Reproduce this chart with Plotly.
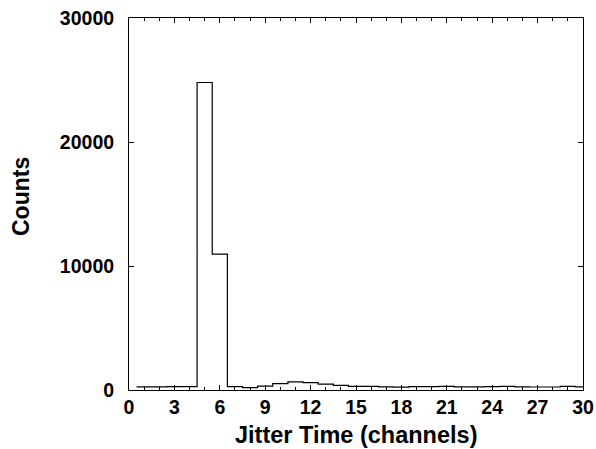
import plotly.graph_objects as go

channels = list(range(1, 31))
counts = [250, 250, 280, 280, 24800, 10950, 270, 190, 320, 520,
          650, 600, 470, 380, 300, 290, 260, 230, 280, 280,
          300, 260, 250, 280, 290, 260, 240, 240, 290, 250]

x_tick_vals = list(range(0, 31, 3))
y_tick_vals = [0, 10000, 20000, 30000]

# step outline (histogram steps centred on each channel)
xs = [c - 0.5 for c in channels] + [channels[-1] + 0.5]
ys = counts + [counts[-1]]

fig = go.Figure()
fig.add_trace(go.Scatter(x=xs, y=ys, mode="lines", line=dict(shape="hv", color="black", width=1.2),
                         showlegend=False, hoverinfo="skip"))

font = dict(family="Liberation Sans, Arial, sans-serif", color="black")
fig.update_layout(
    width=596, height=449,
    margin=dict(l=129, r=13, t=18, b=59),
    plot_bgcolor="white", paper_bgcolor="white",
    font=dict(size=20, **font),
    xaxis=dict(
        range=[0, 30], tickvals=x_tick_vals, ticktext=[f"<b>{v}</b>" for v in x_tick_vals],
        ticks="inside", ticklen=5, tickwidth=1, tickcolor="black",
        minor=dict(dtick=1, tick0=0, ticks="inside", ticklen=3, tickcolor="black"),
        showline=True, linecolor="black", linewidth=1, mirror="ticks",
        showgrid=False, zeroline=False, automargin=False,
        tickfont=dict(size=19.5, **font), ticklabelstandoff=0,
    ),
    yaxis=dict(
        range=[0, 30000], tickvals=y_tick_vals, ticktext=[f"<b>{v}</b>" for v in y_tick_vals],
        ticks="inside", ticklen=5, tickwidth=1, tickcolor="black",
        showline=True, linecolor="black", linewidth=1, mirror="ticks",
        showgrid=False, zeroline=False, automargin=False,
        tickfont=dict(size=19.5, **font), ticklabelstandoff=10,
    ),
    annotations=[
        dict(text="<b>Jitter Time (channels)</b>", xref="paper", yref="paper", x=0.5, y=0,
             xanchor="center", yanchor="middle", yshift=-45, showarrow=False,
             font=dict(size=23.5, **font)),
        dict(text="<b>Counts</b>", xref="paper", yref="paper", x=0, y=0.5,
             xanchor="center", yanchor="middle", xshift=-108, yshift=7, textangle=-90,
             showarrow=False, font=dict(size=23, **font)),
    ],
)
fig.write_html("out.html")
